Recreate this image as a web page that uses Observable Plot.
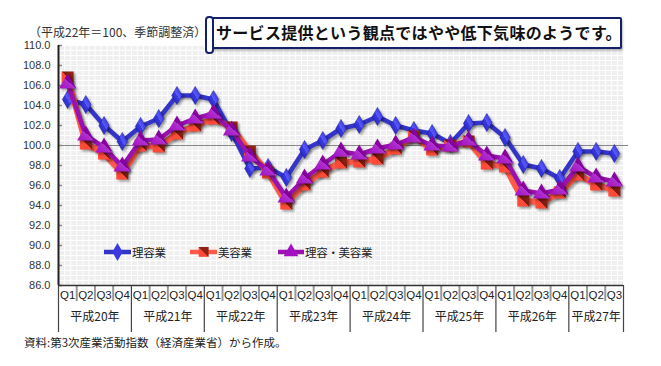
<!DOCTYPE html>
<html><head><meta charset="utf-8">
<script src="https://cdn.jsdelivr.net/npm/d3@7"></script>
<script src="https://cdn.jsdelivr.net/npm/@observablehq/plot@0.6"></script>
<style>
body{margin:0;background:#fff;font-family:"Noto Sans CJK JP","Noto Sans",sans-serif;}
#wrap{position:relative;width:661px;height:366px;overflow:hidden;}
#chart{position:absolute;left:0;top:0;}
.ov{position:absolute;white-space:nowrap;color:#222;}
.shadow{filter:drop-shadow(2px 2px 1.2px rgba(0,0,0,0.35));}
</style></head>
<body>
<div id="wrap">
<div id="chart"></div>
<div class="ov" style="left:29px;top:23px;font-size:12px;color:#333;letter-spacing:0px;">（平成22年＝100、季節調整済）</div>
<div class="ov" style="left:209px;top:17px;width:409px;height:28px;border:2px solid #14206b;border-radius:2px;background:#fff;box-shadow:1px 2px 2px rgba(0,0,0,0.25);"></div>
<div class="ov" style="left:205px;top:16px;width:5px;height:34px;border:2px solid #14206b;border-radius:4px;background:#fff;"></div>
<div class="ov" style="left:216px;top:18px;font-size:16px;font-weight:bold;color:#111;line-height:28px;letter-spacing:0.3px;">サービス提供という観点ではやや低下気味のようです。</div>
<div class="ov" id="legend" style="left:0;top:243px;font-size:11.5px;"></div>
<div class="ov" style="left:24px;top:334px;font-size:11.5px;color:#222;letter-spacing:0px;">資料:第3次産業活動指数（経済産業省）から作成。</div>
</div>
<script>
const quarters = ["Q1","Q2","Q3","Q4","Q1","Q2","Q3","Q4","Q1","Q2","Q3","Q4","Q1","Q2","Q3","Q4","Q1","Q2","Q3","Q4","Q1","Q2","Q3","Q4","Q1","Q2","Q3","Q4","Q1","Q2","Q3"];
const years = ["平成20年","平成21年","平成22年","平成23年","平成24年","平成25年","平成26年","平成27年"];
const yearQuarterCounts = [4,4,4,4,4,4,4,3];
const riyo = [104.6,104.1,102.0,100.4,101.9,102.7,105.0,105.0,104.6,101.3,97.7,97.8,96.8,99.6,100.5,101.7,102.1,102.9,102.0,101.5,101.2,100.2,102.2,102.3,100.8,98.1,97.7,96.7,99.4,99.4,99.2];
const biyo = [106.8,100.2,99.2,97.2,100.0,99.9,101.2,102.0,102.7,101.8,99.4,97.3,94.2,96.1,97.4,98.3,98.4,98.7,99.7,100.9,99.6,100.0,100.4,98.2,97.9,94.5,94.3,95.3,97.1,96.1,95.5];
const both = [106.2,101.0,99.8,97.9,100.5,100.6,102.0,102.7,103.2,101.5,98.9,97.5,94.8,96.7,98.1,99.4,99.1,99.7,100.1,100.8,100.0,99.9,100.5,99.0,98.7,95.5,95.2,95.6,97.9,96.8,96.4];
const seriesNames = ["理容業","美容業","理容・美容業"];
const yTicks = d3.range(86, 110.01, 2);

const W = 661, H = 366, mL = 58, mR = 38, mT = 45, mB = 81;
const frameH = H - mT - mB, frameW = W - mL - mR;

const idx = quarters.map((q,i)=>i);
const rows = s => s.map((v,i)=>({i, v}));

let start = 0;
const yearRows = years.map((y,k)=>{ const n = yearQuarterCounts[k]; const r = {name:y, start, n}; start += n; return r; });
const yearBounds = [ -0.5, ...yearRows.map(r=>r.start + r.n - 0.5) ];
const quarterSeps = idx.slice(0,-1).map(i=>i+0.5).filter(x=>!yearBounds.includes(x));
const xGrid = d3.range(0, quarters.length*3 + 1).map(k=>-0.5 + k/3);
const yGrid = d3.range(86, 110.01, 0.5);

const colBlue = "#3434c8", colRed = "#ff5a48", colPurple = "#9a10b0";

const plot = Plot.plot({
  width: W, height: H,
  marginLeft: mL, marginRight: mR, marginTop: mT, marginBottom: mB,
  style: {fontFamily: '"Liberation Sans", Arial, sans-serif', fontSize: "11px", color: "#333", background: "transparent"},
  x: {type: "linear", domain: [-0.5, quarters.length - 0.5], axis: null},
  y: {domain: [86, 110], axis: null},
  marks: [
    Plot.frame({fill: "#efefef", stroke: null}),
    Plot.gridX({ticks: xGrid, stroke: "#ffffff", strokeOpacity: 1, strokeWidth: 1}),
    Plot.gridY({ticks: yGrid, stroke: "#ffffff", strokeOpacity: 1, strokeWidth: 1}),
    Plot.ruleY(yTicks, {y: d=>d, stroke: "#888", strokeWidth: 1.5, insetRight: frameW - 4}),
    Plot.ruleY([100], {stroke: "#888", strokeWidth: 1.2, insetRight: -5}),
    Plot.axisY({ticks: yTicks, tickFormat: d=>d.toFixed(1), tickSize: 0, tickPadding: 8, label: null, fill: "#333", fontSize: 11, style:{letterSpacing:"-0.6px"}}),
    Plot.text(quarters, {x: (d,i)=>i, frameAnchor: "bottom", dy: 13, text: d=>d, fill: "#222", fontSize: 11.5}),
    Plot.text(yearRows, {x: d=>d.start + (d.n-1)/2, frameAnchor: "bottom", dy: 35, text: d=>d.name, fill: "#222", fontSize: 12, fontFamily: '"Noto Sans CJK JP", sans-serif'}),
    Plot.ruleX(quarterSeps, {stroke: "#999", strokeWidth: 2, insetTop: frameH, insetBottom: -16}),
    Plot.ruleX(yearBounds, {stroke: "#444", strokeWidth: 1.2, insetTop: frameH, insetBottom: -47}),
    Plot.ruleY([86], {stroke: "#333", strokeWidth: 1.5}),
    Plot.ruleX([-0.5], {stroke: "#222", strokeWidth: 2}),
    Plot.line(rows(riyo), {x: "i", y: "v", stroke: colBlue, strokeWidth: 4.5, className: "shadow"}),
    Plot.dot(rows(riyo), {x: "i", y: "v", symbol: "diamond", r: 5.5, fill: "url(#gBlue)", stroke: "#1a1aa0", strokeWidth: 0.5, className: "shadow"}),
    Plot.line(rows(biyo), {x: "i", y: "v", stroke: colRed, strokeWidth: 6, className: "shadow"}),
    Plot.dot(rows(biyo), {x: "i", y: "v", symbol: "square", r: 6.8, fill: "url(#gRed)", stroke: "none", className: "shadow"}),
    Plot.line(rows(both), {x: "i", y: "v", stroke: colPurple, strokeWidth: 4.5, className: "shadow"}),
    Plot.dot(rows(both), {x: "i", y: "v", symbol: "triangle", r: 6.5, fill: "url(#gPurple)", stroke: "none", className: "shadow"})
  ]
});

const svg = d3.select(plot);
const defs = svg.insert("defs", ":first-child");
function grad(id, stops, x2, y2) {
  const g = defs.append("linearGradient").attr("id", id).attr("x1","0").attr("y1","1").attr("x2",x2).attr("y2",y2);
  stops.forEach(([o,c])=>g.append("stop").attr("offset",o).attr("stop-color",c));
}
grad("gBlue", [["0","#2020b8"],["0.5","#3a3ae0"],["0.5","#5a5aff"],["1","#2828c8"]], "1", "0");
grad("gRed", [["0","#ff4a38"],["0.5","#ff4a38"],["0.5","#7a1a10"],["1","#a02818"]], "1", "0");
grad("gPurple", [["0","#a010c0"],["0.5","#b030d0"],["0.5","#800098"],["1","#9a10b0"]], "1", "0");
document.getElementById("chart").appendChild(plot);

const leg = [
  {name: seriesNames[0], color: colBlue, sym: "diamond", x: 104, w: 27},
  {name: seriesNames[1], color: colRed, sym: "square", x: 190, w: 27},
  {name: seriesNames[2], color: colPurple, sym: "triangle", x: 278, w: 26}
];
const legDiv = document.getElementById("legend");
leg.forEach(l => {
  const sy = {diamond: d3.symbolDiamond, square: d3.symbolSquare, triangle: d3.symbolTriangle}[l.sym];
  const path = d3.symbol(sy, Math.PI*30)();
  const gfill = l.sym === "diamond" ? "#3a3ae0" : l.sym === "square" ? "#ff4a38" : "#a010c0";
  const el = document.createElement("div");
  el.style.cssText = `position:absolute;left:${l.x}px;top:0;display:flex;align-items:center;height:18px;`;
  el.innerHTML = `<svg width="${l.w}" height="18" style="overflow:visible"><line x1="0" x2="${l.w}" y1="9" y2="9" stroke="${l.color}" stroke-width="4.5"/><path d="${path}" transform="translate(${l.w/2},9)" fill="${gfill}"/>${l.sym==="square"?`<path d="M${l.w/2-5},4 L${l.w/2+5},4 L${l.w/2+5},14 Z" fill="#8a2214"/>`:""}</svg><span style="margin-left:1px;color:#222;letter-spacing:-0.3px;">${l.name}</span>`;
  legDiv.appendChild(el);
});
</script>
</body></html>
